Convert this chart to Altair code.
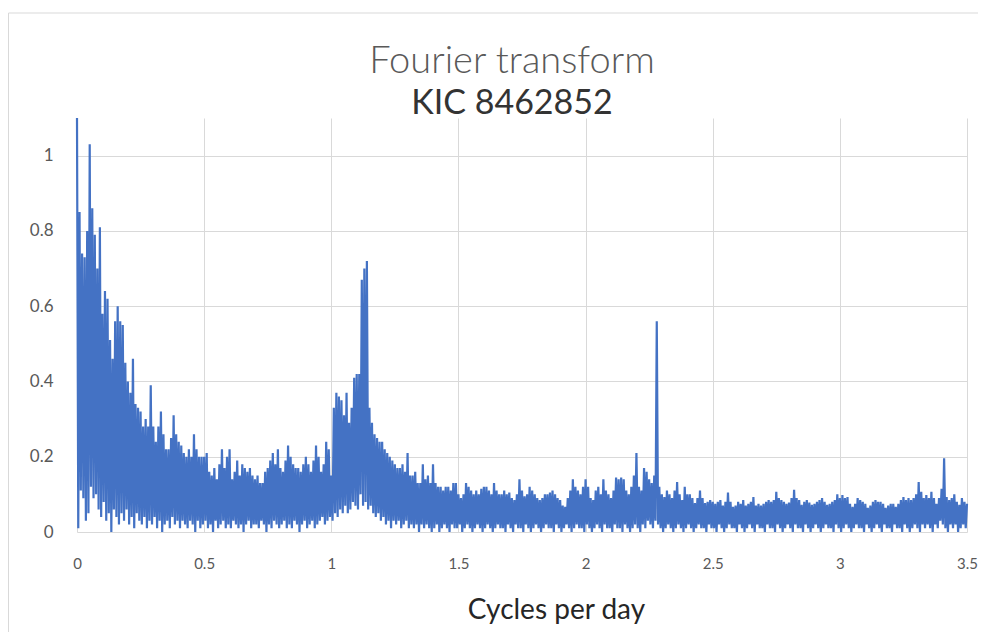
import altair as alt
import pandas as pd

# Sampling grid of the spectrum (cycles per day)
FREQ_STEP = 0.01

# Upper envelope (local maxima), one value per 0.01 c/d, 0.00 .. 3.50
peak_amp = [
    1.10, 0.85, 0.74, 0.73, 0.80, 1.03, 0.86, 0.79, 0.70, 0.81,   # 0.00
    0.58, 0.64, 0.62, 0.51, 0.46, 0.56, 0.60, 0.56, 0.55, 0.45,   # 0.10
    0.40, 0.37, 0.46, 0.34, 0.33, 0.32, 0.28, 0.30, 0.28, 0.39,   # 0.20
    0.28, 0.24, 0.28, 0.32, 0.26, 0.22, 0.22, 0.25, 0.31, 0.26,   # 0.30
    0.24, 0.23, 0.21, 0.20, 0.22, 0.20, 0.26, 0.22, 0.20, 0.20,   # 0.40
    0.20, 0.21, 0.16, 0.15, 0.17, 0.14, 0.18, 0.22, 0.17, 0.20,   # 0.50
    0.22, 0.14, 0.16, 0.19, 0.15, 0.18, 0.17, 0.16, 0.17, 0.15,   # 0.60
    0.14, 0.15, 0.13, 0.13, 0.16, 0.17, 0.19, 0.21, 0.18, 0.22,   # 0.70
    0.17, 0.16, 0.19, 0.23, 0.20, 0.18, 0.17, 0.17, 0.16, 0.18,   # 0.80
    0.20, 0.18, 0.16, 0.19, 0.23, 0.20, 0.16, 0.18, 0.24, 0.22,   # 0.90
    0.15, 0.33, 0.37, 0.36, 0.35, 0.31, 0.37, 0.29, 0.33, 0.41,   # 1.00
    0.42, 0.42, 0.67, 0.70, 0.72, 0.33, 0.29, 0.26, 0.25, 0.24,   # 1.10
    0.24, 0.22, 0.21, 0.20, 0.19, 0.18, 0.17, 0.17, 0.18, 0.16,   # 1.20
    0.21, 0.15, 0.15, 0.16, 0.13, 0.13, 0.18, 0.14, 0.15, 0.13,   # 1.30
    0.18, 0.13, 0.12, 0.12, 0.11, 0.12, 0.12, 0.11, 0.13, 0.13,   # 1.40
    0.10, 0.09, 0.10, 0.13, 0.12, 0.11, 0.10, 0.11, 0.10, 0.115,  # 1.50
    0.12, 0.12, 0.11, 0.10, 0.13, 0.11, 0.10, 0.10, 0.11, 0.10,   # 1.60
    0.105, 0.09, 0.085, 0.10, 0.14, 0.11, 0.095, 0.10, 0.12, 0.11,  # 1.70
    0.10, 0.09, 0.085, 0.09, 0.10, 0.10, 0.105, 0.11, 0.10, 0.09,  # 1.80
    0.085, 0.07, 0.067, 0.09, 0.11, 0.14, 0.12, 0.11, 0.10, 0.12,  # 1.90
    0.14, 0.12, 0.09, 0.085, 0.11, 0.12, 0.10, 0.14, 0.11, 0.10,   # 2.00
    0.09, 0.11, 0.145, 0.14, 0.145, 0.14, 0.11, 0.10, 0.12, 0.15,  # 2.10
    0.21, 0.12, 0.11, 0.17, 0.16, 0.14, 0.13, 0.15, 0.56, 0.12,   # 2.20
    0.10, 0.093, 0.11, 0.10, 0.09, 0.11, 0.133, 0.10, 0.085, 0.12,  # 2.30
    0.10, 0.10, 0.09, 0.077, 0.09, 0.11, 0.09, 0.077, 0.08, 0.085,  # 2.40
    0.08, 0.075, 0.08, 0.085, 0.07, 0.08, 0.105, 0.08, 0.067, 0.07,  # 2.50
    0.08, 0.075, 0.085, 0.07, 0.075, 0.08, 0.093, 0.07, 0.075, 0.07,  # 2.60
    0.075, 0.08, 0.085, 0.08, 0.085, 0.107, 0.09, 0.085, 0.08, 0.075,  # 2.70
    0.078, 0.09, 0.112, 0.09, 0.085, 0.072, 0.08, 0.085, 0.078, 0.072,  # 2.80
    0.075, 0.08, 0.085, 0.09, 0.08, 0.072, 0.075, 0.08, 0.085, 0.10,  # 2.90
    0.09, 0.098, 0.09, 0.093, 0.075, 0.067, 0.075, 0.09, 0.085, 0.08,  # 3.00
    0.075, 0.064, 0.07, 0.08, 0.085, 0.08, 0.08, 0.075, 0.064, 0.07,  # 3.10
    0.075, 0.075, 0.067, 0.075, 0.085, 0.093, 0.085, 0.09, 0.085, 0.09,  # 3.20
    0.10, 0.133, 0.107, 0.09, 0.098, 0.09, 0.107, 0.09, 0.075, 0.09,  # 3.30
    0.115, 0.196, 0.093, 0.085, 0.09, 0.10, 0.08, 0.072, 0.09, 0.08,  # 3.40
    0.075,                                                          # 3.50
]

# Lower envelope (local minima), one value half-way between consecutive maxima
trough_amp = [
    0.01, 0.11, 0.09, 0.03, 0.05, 0.12, 0.09, 0.10, 0.06, 0.04,   # 0.00
    0.08, 0.03, 0.05, 0.00, 0.06, 0.04, 0.02, 0.05, 0.03, 0.06,   # 0.10
    0.02, 0.04, 0.01, 0.05, 0.03, 0.02, 0.04, 0.01, 0.03, 0.02,   # 0.20
    0.04, 0.01, 0.03, 0.00, 0.02, 0.03, 0.01, 0.04, 0.02, 0.03,   # 0.30
    0.01, 0.03, 0.02, 0.01, 0.03, 0.02, 0.00, 0.03, 0.01, 0.02,   # 0.40
    0.03, 0.01, 0.02, 0.00, 0.03, 0.01, 0.02, 0.03, 0.01, 0.02,   # 0.50
    0.01, 0.03, 0.02, 0.01, 0.02, 0.00, 0.02, 0.03, 0.01, 0.02,   # 0.60
    0.02, 0.01, 0.03, 0.02, 0.00, 0.02, 0.01, 0.03, 0.02, 0.01,   # 0.70
    0.02, 0.03, 0.01, 0.02, 0.01, 0.03, 0.02, 0.00, 0.02, 0.03,   # 0.80
    0.01, 0.02, 0.03, 0.01, 0.02, 0.03, 0.04, 0.02, 0.03, 0.04,   # 0.90
    0.03, 0.05, 0.04, 0.06, 0.05, 0.07, 0.05, 0.06, 0.08, 0.07,   # 1.00
    0.06, 0.10, 0.07, 0.08, 0.06, 0.07, 0.05, 0.04, 0.05, 0.03,   # 1.10
    0.04, 0.02, 0.03, 0.01, 0.03, 0.02, 0.03, 0.01, 0.02, 0.03,   # 1.20
    0.01, 0.02, 0.01, 0.02, 0.00, 0.02, 0.01, 0.02, 0.01, 0.00,   # 1.30
    0.01, 0.02, 0.00, 0.01, 0.02, 0.01, 0.00, 0.02, 0.01, 0.01,   # 1.40
    0.02, 0.00, 0.01, 0.02, 0.01, 0.00, 0.01, 0.02, 0.01, 0.00,   # 1.50
    0.01, 0.02, 0.01, 0.00, 0.01, 0.02, 0.01, 0.01, 0.00, 0.02,   # 1.60
    0.01, 0.00, 0.02, 0.01, 0.01, 0.00, 0.02, 0.01, 0.00, 0.01,   # 1.70
    0.02, 0.01, 0.00, 0.01, 0.02, 0.01, 0.01, 0.00, 0.02, 0.01,   # 1.80
    0.00, 0.01, 0.02, 0.01, 0.00, 0.01, 0.02, 0.01, 0.01, 0.00,   # 1.90
    0.02, 0.01, 0.00, 0.01, 0.02, 0.01, 0.00, 0.02, 0.01, 0.01,   # 2.00
    0.00, 0.02, 0.01, 0.01, 0.00, 0.02, 0.01, 0.00, 0.01, 0.02,   # 2.10
    0.01, 0.00, 0.02, 0.01, 0.03, 0.02, 0.01, 0.03, 0.02, 0.01,   # 2.20
    0.00, 0.01, 0.02, 0.01, 0.00, 0.01, 0.02, 0.01, 0.00, 0.01,   # 2.30
    0.02, 0.01, 0.00, 0.01, 0.02, 0.01, 0.01, 0.00, 0.02, 0.01,   # 2.40
    0.01, 0.00, 0.02, 0.01, 0.00, 0.01, 0.02, 0.01, 0.01, 0.00,   # 2.50
    0.02, 0.01, 0.00, 0.01, 0.02, 0.01, 0.00, 0.02, 0.01, 0.01,   # 2.60
    0.00, 0.02, 0.01, 0.01, 0.00, 0.02, 0.01, 0.00, 0.01, 0.02,   # 2.70
    0.01, 0.00, 0.02, 0.01, 0.01, 0.00, 0.02, 0.01, 0.00, 0.01,   # 2.80
    0.02, 0.01, 0.00, 0.01, 0.02, 0.01, 0.01, 0.00, 0.02, 0.01,   # 2.90
    0.00, 0.01, 0.02, 0.01, 0.00, 0.01, 0.02, 0.01, 0.01, 0.00,   # 3.00
    0.02, 0.01, 0.00, 0.01, 0.02, 0.01, 0.00, 0.02, 0.01, 0.01,   # 3.10
    0.00, 0.02, 0.01, 0.01, 0.00, 0.02, 0.01, 0.00, 0.01, 0.02,   # 3.20
    0.01, 0.00, 0.02, 0.01, 0.02, 0.01, 0.00, 0.02, 0.01, 0.03,   # 3.30
    0.02, 0.01, 0.00, 0.02, 0.01, 0.02, 0.00, 0.01, 0.02, 0.01,   # 3.40
]

x_ticks = [0, 0.5, 1, 1.5, 2, 2.5, 3, 3.5]
y_ticks = [0, 0.2, 0.4, 0.6, 0.8, 1]

assert len(trough_amp) == len(peak_amp) - 1

rows = []
for i, hi in enumerate(peak_amp):
    f = round(i * FREQ_STEP, 4)
    rows.append({"freq": f, "amp": hi})
    if i < len(trough_amp):
        rows.append({"freq": round(f + FREQ_STEP / 2, 4), "amp": trough_amp[i]})
df = pd.DataFrame(rows)

FONT = "Lato"
GRID = "#D9D9D9"
TXT = "#595959"

spectrum = alt.Chart(df).mark_line(color="#4472C4", strokeWidth=2.2).encode(
    x=alt.X(
        "freq:Q",
        scale=alt.Scale(domain=[0, 3.5], nice=False, zero=False),
        axis=alt.Axis(
            values=x_ticks, format=".1~f", title="Cycles per day",
            grid=True, gridColor=GRID, ticks=False, domain=False, labelFlush=False,
            labelFont=FONT, labelFontSize=15, labelColor=TXT, labelPadding=24,
            titleFont=FONT, titleFontSize=28, titleFontWeight="normal", titleColor="#262626",
            titleX=479, titleY=64, titleBaseline="top", titleAlign="center",
        ),
    ),
    y=alt.Y(
        "amp:Q",
        scale=alt.Scale(domain=[0, 1.1], nice=False),
        axis=alt.Axis(
            values=y_ticks, format=".1~f", title="",
            grid=True, gridColor=GRID, ticks=False, domain=False, labelFlush=False,
            labelFont=FONT, labelFontSize=17, labelColor=TXT, labelPadding=24,
        ),
    ),
)

# light-grey border of the chart box (decoration)
frame = alt.Chart(alt.Data(values=[{}])).mark_rect(
    fill="white", fillOpacity=0, stroke=GRID, strokeWidth=1
).encode(
    x=alt.value(-68.5), x2=alt.value(1000), y=alt.value(-105), y2=alt.value(700)
)

chart = alt.layer(frame, spectrum).properties(
    width=890,
    height=414,
    autosize=alt.AutoSizeParams(type="none"),
    padding={"left": 69, "top": 110, "right": 11, "bottom": 100},
    title=alt.TitleParams(
        text="Fourier transform",
        subtitle="KIC 8462852",
        font=FONT, fontSize=38, fontWeight=300, color=TXT,
        subtitleFont=FONT, subtitleFontSize=34, subtitleFontWeight="normal",
        subtitleColor="#333333",
        subtitlePadding=6, anchor="middle", frame="group", offset=-108, dx=-10,
    ),
).configure_view(strokeWidth=0)

chart.save("out.html", embed_options={"renderer": "svg", "actions": False})
